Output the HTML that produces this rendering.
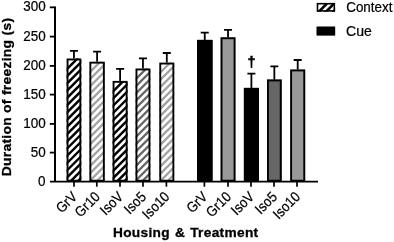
<!DOCTYPE html>
<html><head><meta charset="utf-8"><title>Chart</title>
<style>html,body{margin:0;padding:0;background:#fff;}svg{display:block}text{font-family:"Liberation Sans",Arial,sans-serif;fill:#000;stroke:#000;stroke-width:0.22px}text.b{font-weight:bold;stroke-width:0.3px}text.d{font-weight:bold;stroke-width:0.5px}</style>
</head><body>
<svg width="394" height="242" viewBox="0 0 394 242">
<rect width="394" height="242" fill="#fff"/>
<path d="M69.95 50.80H77.95M73.95 50.80V59.50" stroke="#000" stroke-width="1.8" fill="none"/>
<path d="M93.10 51.60H101.10M97.10 51.60V62.70" stroke="#000" stroke-width="1.8" fill="none"/>
<path d="M116.10 68.90H124.10M120.10 68.90V81.90" stroke="#000" stroke-width="1.8" fill="none"/>
<path d="M138.95 58.40H146.95M142.95 58.40V69.50" stroke="#000" stroke-width="1.8" fill="none"/>
<path d="M162.80 53.00H170.80M166.80 53.00V63.60" stroke="#000" stroke-width="1.8" fill="none"/>
<path d="M200.75 32.60H208.75M204.75 32.60V40.90" stroke="#000" stroke-width="1.8" fill="none"/>
<path d="M224.05 29.80H232.05M228.05 29.80V38.30" stroke="#000" stroke-width="1.8" fill="none"/>
<path d="M247.40 73.70H255.40M251.40 73.70V88.90" stroke="#000" stroke-width="1.8" fill="none"/>
<path d="M270.35 66.40H278.35M274.35 66.40V80.50" stroke="#000" stroke-width="1.8" fill="none"/>
<path d="M293.70 60.00H301.70M297.70 60.00V70.50" stroke="#000" stroke-width="1.8" fill="none"/>
<rect x="66.60" y="58.50" width="14.70" height="123.15" fill="#fff"/>
<clipPath id="c1"><rect x="66.60" y="58.50" width="14.70" height="123.15"/></clipPath>
<path clip-path="url(#c1)" d="M63.60 72.40L84.30 51.70M63.60 79.64L84.30 58.94M63.60 86.88L84.30 66.18M63.60 94.12L84.30 73.42M63.60 101.36L84.30 80.66M63.60 108.60L84.30 87.90M63.60 115.84L84.30 95.14M63.60 123.08L84.30 102.38M63.60 130.32L84.30 109.62M63.60 137.56L84.30 116.86M63.60 144.80L84.30 124.10M63.60 152.04L84.30 131.34M63.60 159.28L84.30 138.58M63.60 166.52L84.30 145.82M63.60 173.76L84.30 153.06M63.60 181.00L84.30 160.30M63.60 188.24L84.30 167.54M63.60 195.48L84.30 174.78M63.60 202.72L84.30 182.02" stroke="#000" stroke-width="2.45" fill="none"/>
<rect x="67.55" y="59.45" width="12.80" height="121.25" fill="none" stroke="#000" stroke-width="1.9"/>
<rect x="89.40" y="61.70" width="15.40" height="119.95" fill="#fff"/>
<clipPath id="c2"><rect x="89.40" y="61.70" width="15.40" height="119.95"/></clipPath>
<path clip-path="url(#c2)" d="M86.40 75.60L107.80 54.20M86.40 82.84L107.80 61.44M86.40 90.08L107.80 68.68M86.40 97.32L107.80 75.92M86.40 104.56L107.80 83.16M86.40 111.80L107.80 90.40M86.40 119.04L107.80 97.64M86.40 126.28L107.80 104.88M86.40 133.52L107.80 112.12M86.40 140.76L107.80 119.36M86.40 148.00L107.80 126.60M86.40 155.24L107.80 133.84M86.40 162.48L107.80 141.08M86.40 169.72L107.80 148.32M86.40 176.96L107.80 155.56M86.40 184.20L107.80 162.80M86.40 191.44L107.80 170.04M86.40 198.68L107.80 177.28" stroke="#a2a2a2" stroke-width="2.3" fill="none"/>
<rect x="90.35" y="62.65" width="13.50" height="118.05" fill="none" stroke="#000" stroke-width="1.9"/>
<rect x="112.60" y="80.90" width="15.00" height="100.75" fill="#fff"/>
<clipPath id="c3"><rect x="112.60" y="80.90" width="15.00" height="100.75"/></clipPath>
<path clip-path="url(#c3)" d="M109.60 94.80L130.60 73.80M109.60 102.04L130.60 81.04M109.60 109.28L130.60 88.28M109.60 116.52L130.60 95.52M109.60 123.76L130.60 102.76M109.60 131.00L130.60 110.00M109.60 138.24L130.60 117.24M109.60 145.48L130.60 124.48M109.60 152.72L130.60 131.72M109.60 159.96L130.60 138.96M109.60 167.20L130.60 146.20M109.60 174.44L130.60 153.44M109.60 181.68L130.60 160.68M109.60 188.92L130.60 167.92M109.60 196.16L130.60 175.16M109.60 203.40L130.60 182.40" stroke="#000" stroke-width="2.45" fill="none"/>
<rect x="113.55" y="81.85" width="13.10" height="98.85" fill="none" stroke="#000" stroke-width="1.9"/>
<rect x="135.50" y="68.50" width="14.90" height="113.15" fill="#fff"/>
<clipPath id="c4"><rect x="135.50" y="68.50" width="14.90" height="113.15"/></clipPath>
<path clip-path="url(#c4)" d="M132.50 82.40L153.40 61.50M132.50 89.64L153.40 68.74M132.50 96.88L153.40 75.98M132.50 104.12L153.40 83.22M132.50 111.36L153.40 90.46M132.50 118.60L153.40 97.70M132.50 125.84L153.40 104.94M132.50 133.08L153.40 112.18M132.50 140.32L153.40 119.42M132.50 147.56L153.40 126.66M132.50 154.80L153.40 133.90M132.50 162.04L153.40 141.14M132.50 169.28L153.40 148.38M132.50 176.52L153.40 155.62M132.50 183.76L153.40 162.86M132.50 191.00L153.40 170.10M132.50 198.24L153.40 177.34" stroke="#666" stroke-width="2.3" fill="none"/>
<rect x="136.45" y="69.45" width="13.00" height="111.25" fill="none" stroke="#000" stroke-width="1.9"/>
<rect x="159.30" y="62.60" width="15.00" height="119.05" fill="#fff"/>
<clipPath id="c5"><rect x="159.30" y="62.60" width="15.00" height="119.05"/></clipPath>
<path clip-path="url(#c5)" d="M156.30 76.50L177.30 55.50M156.30 83.74L177.30 62.74M156.30 90.98L177.30 69.98M156.30 98.22L177.30 77.22M156.30 105.46L177.30 84.46M156.30 112.70L177.30 91.70M156.30 119.94L177.30 98.94M156.30 127.18L177.30 106.18M156.30 134.42L177.30 113.42M156.30 141.66L177.30 120.66M156.30 148.90L177.30 127.90M156.30 156.14L177.30 135.14M156.30 163.38L177.30 142.38M156.30 170.62L177.30 149.62M156.30 177.86L177.30 156.86M156.30 185.10L177.30 164.10M156.30 192.34L177.30 171.34M156.30 199.58L177.30 178.58" stroke="#a2a2a2" stroke-width="2.3" fill="none"/>
<rect x="160.25" y="63.55" width="13.10" height="117.15" fill="none" stroke="#000" stroke-width="1.9"/>
<rect x="197.00" y="39.90" width="15.50" height="141.75" fill="#000"/>
<rect x="197.95" y="40.85" width="13.60" height="139.85" fill="none" stroke="#000" stroke-width="1.9"/>
<rect x="220.60" y="37.30" width="14.90" height="144.35" fill="#999"/>
<rect x="221.55" y="38.25" width="13.00" height="142.45" fill="none" stroke="#000" stroke-width="1.9"/>
<rect x="243.90" y="87.90" width="15.00" height="93.75" fill="#000"/>
<rect x="244.85" y="88.85" width="13.10" height="91.85" fill="none" stroke="#000" stroke-width="1.9"/>
<rect x="267.00" y="79.50" width="14.70" height="102.15" fill="#666"/>
<rect x="267.95" y="80.45" width="12.80" height="100.25" fill="none" stroke="#000" stroke-width="1.9"/>
<rect x="290.20" y="69.50" width="15.00" height="112.15" fill="#999"/>
<rect x="291.15" y="70.45" width="13.10" height="110.25" fill="none" stroke="#000" stroke-width="1.9"/>
<path d="M55.0 6.449999999999999V181.65" stroke="#000" stroke-width="2" fill="none"/>
<path d="M50 181.65H318" stroke="#000" stroke-width="1.9" fill="none"/>
<path d="M49.8 152.60H55.0" stroke="#000" stroke-width="1.8"/>
<path d="M49.8 123.90H55.0" stroke="#000" stroke-width="1.8"/>
<path d="M49.8 94.60H55.0" stroke="#000" stroke-width="1.8"/>
<path d="M49.8 65.90H55.0" stroke="#000" stroke-width="1.8"/>
<path d="M49.8 36.60H55.0" stroke="#000" stroke-width="1.8"/>
<path d="M49.8 7.35H55.0" stroke="#000" stroke-width="1.8"/>
<path d="M74 181.65V186.7" stroke="#000" stroke-width="1.7"/>
<path d="M96.8 181.65V186.7" stroke="#000" stroke-width="1.7"/>
<path d="M120 181.65V186.7" stroke="#000" stroke-width="1.7"/>
<path d="M143 181.65V186.7" stroke="#000" stroke-width="1.7"/>
<path d="M166.4 181.65V186.7" stroke="#000" stroke-width="1.7"/>
<path d="M204.4 181.65V186.7" stroke="#000" stroke-width="1.7"/>
<path d="M228 181.65V186.7" stroke="#000" stroke-width="1.7"/>
<path d="M251 181.65V186.7" stroke="#000" stroke-width="1.7"/>
<path d="M274 181.65V186.7" stroke="#000" stroke-width="1.7"/>
<path d="M297 181.65V186.7" stroke="#000" stroke-width="1.7"/>
<text transform="translate(45.6 185.50) scale(0.94 1)" font-size="14.3" text-anchor="end">0</text>
<text transform="translate(45.6 156.50) scale(0.94 1)" font-size="14.3" text-anchor="end">50</text>
<text transform="translate(45.6 127.80) scale(0.94 1)" font-size="14.3" text-anchor="end">100</text>
<text transform="translate(45.6 98.50) scale(0.94 1)" font-size="14.3" text-anchor="end">150</text>
<text transform="translate(45.6 69.80) scale(0.94 1)" font-size="14.3" text-anchor="end">200</text>
<text transform="translate(45.6 40.50) scale(0.94 1)" font-size="14.3" text-anchor="end">250</text>
<text transform="translate(45.6 11.25) scale(0.94 1)" font-size="14.3" text-anchor="end">300</text>
<text transform="translate(78.00 197.6) rotate(-45) scale(0.905 1)" font-size="14.3" text-anchor="end">GrV</text>
<text transform="translate(100.80 197.6) rotate(-45) scale(0.905 1)" font-size="14.3" text-anchor="end">Gr10</text>
<text transform="translate(124.00 197.6) rotate(-45) scale(0.905 1)" font-size="14.3" text-anchor="end">IsoV</text>
<text transform="translate(147.00 197.6) rotate(-45) scale(0.905 1)" font-size="14.3" text-anchor="end">Iso5</text>
<text transform="translate(170.40 197.6) rotate(-45) scale(0.905 1)" font-size="14.3" text-anchor="end">Iso10</text>
<text transform="translate(208.40 197.6) rotate(-45) scale(0.905 1)" font-size="14.3" text-anchor="end">GrV</text>
<text transform="translate(232.00 197.6) rotate(-45) scale(0.905 1)" font-size="14.3" text-anchor="end">Gr10</text>
<text transform="translate(255.00 197.6) rotate(-45) scale(0.905 1)" font-size="14.3" text-anchor="end">IsoV</text>
<text transform="translate(278.00 197.6) rotate(-45) scale(0.905 1)" font-size="14.3" text-anchor="end">Iso5</text>
<text transform="translate(301.00 197.6) rotate(-45) scale(0.905 1)" font-size="14.3" text-anchor="end">Iso10</text>
<text transform="translate(11.4 97.0) rotate(-90) scale(1.04 1)" font-size="13.3" class="b" letter-spacing="0.3" text-anchor="middle">Duration of freezing (s)</text>
<text transform="translate(185.7 237.1) scale(1.03 1)" font-size="13.3" class="b" letter-spacing="0.3" word-spacing="0.9" text-anchor="middle">Housing &amp; Treatment</text>
<rect x="316.70" y="2.90" width="18.40" height="8.80" fill="#fff"/>
<clipPath id="c11"><rect x="316.70" y="2.90" width="18.40" height="8.80"/></clipPath>
<path clip-path="url(#c11)" d="M313.70 16.80L338.10 -7.60M313.70 24.04L338.10 -0.36M313.70 31.28L338.10 6.88" stroke="#000" stroke-width="2.6" fill="none"/>
<rect x="317.50" y="3.70" width="16.80" height="7.20" fill="none" stroke="#000" stroke-width="1.6"/>
<rect x="316.70" y="26.70" width="18.40" height="8.70" fill="#000"/>
<rect x="317.45" y="27.45" width="16.90" height="7.20" fill="none" stroke="#000" stroke-width="1.5"/>
<text transform="translate(346.2 11.8) scale(0.94 1)" font-size="14.3">Context</text>
<text transform="translate(346.0 35.8) scale(0.985 1)" font-size="14.3">Cue</text>
<text transform="translate(251.4 67.2) scale(0.97 1)" font-size="14.8" class="d" text-anchor="middle">†</text>
</svg></body></html>
